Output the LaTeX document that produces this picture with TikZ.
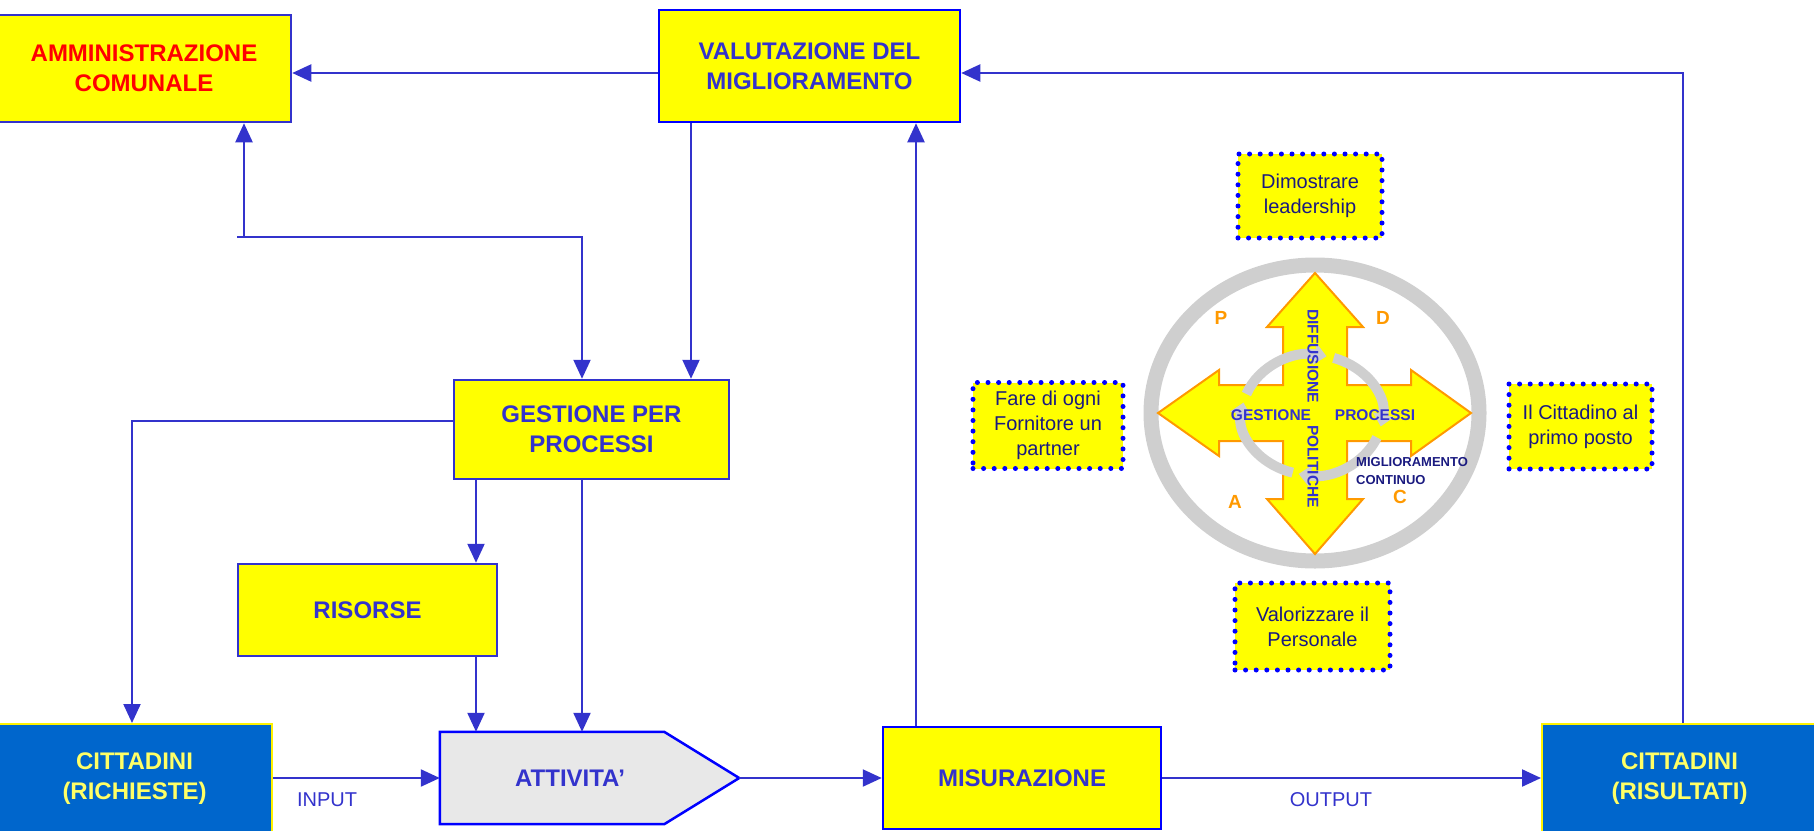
\documentclass[tikz,border=0pt]{standalone}
\usepackage{fontspec}
\setmainfont{Liberation Sans}
\usetikzlibrary{arrows.meta,calc}

\definecolor{boxyellow}{HTML}{FFFF00}
\definecolor{linkblue}{HTML}{3333CC}
\definecolor{pureblue}{HTML}{0000FF}
\definecolor{citblue}{HTML}{0066CC}
\definecolor{cittext}{HTML}{FFFF66}
\definecolor{navytext}{HTML}{1A1A80}
\definecolor{ringgray}{HTML}{CFCFCF}
\definecolor{pdcaorange}{HTML}{FF9900}
\definecolor{attgray}{HTML}{E8E8E8}

\begin{document}
\begin{tikzpicture}[x=1pt,y=-1pt,
  box/.style={draw=linkblue, line width=2.5pt, fill=boxyellow, inner sep=0pt,
    align=center, text=linkblue, font=\fontsize{24}{30}\selectfont\bfseries},
  citbox/.style={draw=yellow, line width=2pt, fill=citblue, inner sep=0pt,
    align=center, text=cittext, font=\fontsize{24}{30}\selectfont\bfseries},
  note/.style={fill=boxyellow, draw=pureblue, line width=5pt, line cap=round,
    dash pattern=on 0pt off 10.6pt, inner sep=0pt, align=center, text=navytext,
    font=\fontsize{20}{25}\selectfont},
  arr/.style={draw=linkblue, line width=2.2pt, -{Triangle[width=17pt,length=19pt]}},
  cycarrow/.style={draw=ringgray, line width=10pt, -{Triangle[width=21pt,length=12pt]}},
  pdca/.style={text=pdcaorange, font=\fontsize{19}{22}\selectfont\bfseries, inner sep=0pt},
  flowlabel/.style={text=linkblue, font=\fontsize{20}{24}\selectfont, inner sep=0pt},
  crosstext/.style={text=linkblue, font=\fontsize{15.5}{18}\selectfont\bfseries, inner sep=0pt},
]
\useasboundingbox (0,0) rectangle (1814,830);

% ---------- main boxes ----------
\node[box, text=red, minimum width=294, minimum height=107] (amm) at (144,68.5)
  {AMMINISTRAZIONE\\COMUNALE};
\node[box, draw=pureblue, minimum width=301, minimum height=112] (val) at (809.5,66)
  {VALUTAZIONE DEL\\MIGLIORAMENTO};
\node[box, minimum width=275, minimum height=99] (gpp) at (591.5,429.5)
  {GESTIONE PER\\PROCESSI};
\node[box, minimum width=259, minimum height=92] (ris) at (367.5,610) {RISORSE};
\node[box, draw=pureblue, minimum width=278, minimum height=102] (mis) at (1022,778)
  {MISURAZIONE};
\node[citbox, minimum width=275, minimum height=109] (cric) at (134.5,778.5)
  {CITTADINI\\(RICHIESTE)};
\node[citbox, minimum width=275, minimum height=109] (cres) at (1679.5,778.5)
  {CITTADINI\\(RISULTATI)};

% activity block with a pointed right end
\node[minimum width=299, minimum height=92, inner sep=0pt] (att) at (589.5,778) {};
\draw[draw=pureblue, line width=2.5pt, fill=attgray, line join=miter]
  (att.north west) -- ([xshift=-75pt]att.north east) -- (att.east)
  -- ([xshift=-75pt]att.south east) -- (att.south west) -- cycle;
\node[text=linkblue, font=\fontsize{24}{30}\selectfont\bfseries, inner sep=0pt]
  (attlabel) at (570,778) {ATTIVITA’};

% ---------- connector guide positions ----------
\coordinate (ytop) at (0,73);
\coordinate (xam) at (244,0);
\coordinate (yj) at (0,237);
\coordinate (jl) at (237,237);
\coordinate (xg) at (582,0);
\coordinate (xv) at (691,0);
\coordinate (xr) at (476,0);
\coordinate (xc) at (132,0);
\coordinate (yg) at (0,421);
\coordinate (xm) at (916,0);
\coordinate (xo) at (1683,0);
\coordinate (ymid) at (0,778);

% ---------- connectors ----------
\draw[arr] (val.west |- ytop) -- (amm.east |- ytop);
\draw[arr] (xo |- cres.north) -- (xo |- ytop) -- (val.east |- ytop);
\draw[arr] (xam |- yj) -- (xam |- amm.south);
\draw[arr] (jl) -- (xg |- yj) -- (xg |- gpp.north);
\draw[arr] (xv |- val.south) -- (xv |- gpp.north);
\draw[arr] (gpp.west |- yg) -- (xc |- yg) -- (xc |- cric.north);
\draw[arr] (xr |- gpp.south) -- (xr |- ris.north);
\draw[arr] (xr |- ris.south) -- (xr |- att.north);
\draw[arr] (xg |- gpp.south) -- (xg |- att.north);
\draw[arr] (cric.east |- ymid) -- (att.west |- ymid);
\draw[arr] (att.east) -- (mis.west |- att.east);
\draw[arr] (xm |- mis.north) -- (xm |- val.south);
\draw[arr] (mis.east |- ymid) -- (cres.west |- ymid);

\node[flowlabel] (inlabel) at (327,800) {INPUT};
\node[flowlabel] (outlabel) at (1331,800) {OUTPUT};

% ---------- principle notes ----------
\node[note, minimum width=144, minimum height=84] (lead) at (1310,196)
  {Dimostrare\\leadership};
\node[note, minimum width=150, minimum height=86] (forn) at (1048,425.5)
  {Fare di ogni\\Fornitore un\\partner};
\node[note, minimum width=143, minimum height=85] (citt) at (1580.5,426.5)
  {Il Cittadino al\\primo posto};
\node[note, minimum width=155, minimum height=87] (pers) at (1312.5,626.5)
  {Valorizzare il\\Personale};

% ---------- improvement wheel ----------
\coordinate (wc) at (1315,413);
\draw[ringgray, line width=15pt] (wc) ellipse[x radius=164, y radius=148];

\draw[draw=pdcaorange, fill=boxyellow, line width=2pt, line join=miter, shift={(1315,413)}]
  (0,-140) -- (48,-86) -- (32,-86) -- (32,-28) -- (96,-28) -- (96,-43) -- (156,0)
  -- (96,43) -- (96,28) -- (32,28) -- (32,86) -- (48,86) -- (0,141)
  -- (-48,86) -- (-32,86) -- (-32,28) -- (-96,28) -- (-96,43) -- (-157,0)
  -- (-96,-43) -- (-96,-28) -- (-32,-28) -- (-32,-86) -- (-48,-86) -- cycle;

\coordinate (cyc) at (1312,415);
\draw[cycarrow] ([shift={(cyc)}]-159.5:70 and 60)
  arc[start angle=-159.5, end angle=-78, x radius=70, y radius=60];
\draw[cycarrow] ([shift={(cyc)}]-72:70 and 60)
  arc[start angle=-72, end angle=11, x radius=70, y radius=60];
\draw[cycarrow] ([shift={(cyc)}]22:70 and 60)
  arc[start angle=22, end angle=101, x radius=70, y radius=60];
\draw[cycarrow] ([shift={(cyc)}]106:70 and 60)
  arc[start angle=106, end angle=192, x radius=70, y radius=60];

\node[crosstext, rotate=-90] (polit) at (1313,408.5)
  {DIFFUSIONE\hspace{22pt}POLITICHE};
\node[crosstext] (gest) at (1271,415) {GESTIONE};
\node[crosstext] (proc) at (1375,415) {PROCESSI};
\node[text=navytext, font=\fontsize{13}{18}\selectfont\bfseries, inner sep=0pt,
  align=left, anchor=west] (migl) at (1356,471) {MIGLIORAMENTO\\CONTINUO};

\node[pdca] (lp) at (1221,318) {P};
\node[pdca] (ld) at (1383,318) {D};
\node[pdca] (la) at (1235,502) {A};
\node[pdca] (lc) at (1400,497) {C};
\end{tikzpicture}
\end{document}
